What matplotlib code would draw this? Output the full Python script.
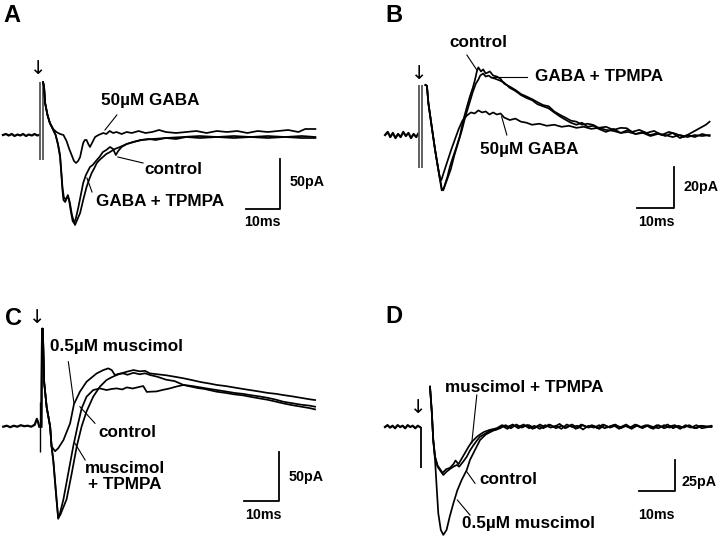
import matplotlib.pyplot as plt

plt.rcParams['font.family'] = ['Liberation Sans', 'DejaVu Sans']

# ---------------- data: time (ms) from stimulus, current (pA) ----------------
# panel A
a_base = [(-10.9, 0), (-10, 1), (-9.2, -0.5), (-8.3, 1), (-7.5, -1), (-6.6, 0.5), (-5.8, -0.5),
          (-5, 1), (-4.1, -1), (-3.3, 0.5), (-2.4, -0.5), (-1.6, 1), (-0.8, -0.5), (-0.3, 0)]
a_control = [(0.9, 53), (1.2, 48), (1.5, 32), (2.2, 20), (2.9, 12), (3.9, 5), (4.6, 0), (5.3, -10),
             (5.9, -22), (6.3, -40), (6.6, -55), (6.9, -65), (7.4, -67), (8.0, -62), (8.5, -64),
             (9.0, -75), (9.6, -86), (10.0, -88), (10.5, -84), (11.3, -72), (12.0, -60), (12.7, -48),
             (13.5, -40), (14.7, -32), (15.5, -30), (16.7, -25), (17.5, -22), (18.5, -17), (19.5, -15),
             (20.6, -12), (21.5, -14), (22.3, -20), (23.0, -16), (24.0, -12), (25.5, -9), (27.4, -7),
             (29.5, -5), (32, -4), (34, -5), (37, -3), (40, -4), (43, -2), (47, -3), (52, -2), (57, -3),
             (62, -2), (67, -3), (72, -2), (77, -3), (81, -3)]
a_tpmpa = [(0.9, 53), (1.2, 48), (1.5, 32), (2.2, 20), (2.9, 12), (3.9, 5), (4.6, 0), (5.3, -9),
           (5.9, -20), (6.3, -38), (6.6, -52), (7.0, -62), (7.6, -65), (8.2, -60), (8.8, -68),
           (9.4, -80), (10.0, -87), (10.3, -90), (10.8, -86), (11.8, -78), (12.7, -65), (13.7, -52),
           (14.5, -44), (15.2, -38), (16.0, -33), (16.7, -28), (17.5, -25), (18.5, -22), (19.5, -19),
           (20.6, -17), (22, -14), (23.5, -12), (25.5, -9), (27.5, -7), (30, -5), (33, -4), (37, -3),
           (42, -2), (47, -1), (52, -2), (57, -1), (62, -2), (67, -1), (72, -2), (77, -1), (81, -2)]
a_gaba = [(0.9, 53), (1.2, 48), (1.5, 32), (2.2, 20), (2.9, 12), (3.9, 6), (4.8, 3), (5.9, 1),
          (6.9, 0), (7.8, -6), (8.6, -14), (9.3, -20), (10.0, -26), (10.6, -28), (11.2, -26),
          (11.8, -22), (12.3, -14), (12.7, -8), (13.2, -5), (13.7, -5), (14.2, -9), (14.7, -12),
          (15.3, -8), (16.2, -2), (17.2, 0), (18.6, 2), (19.5, 1), (20.5, 4), (21.5, 2), (22.5, 3),
          (24, 1), (25.5, 3), (27, 2), (29, 4), (31, 2), (33, 3), (35, 5), (37, 3), (40, 2), (43, 3),
          (46, 4), (49, 2), (52, 4), (55, 3), (58, 4), (61, 2), (64, 4), (67, 3), (70, 4), (73, 5),
          (76, 3), (78, 6), (81, 6)]

# panel B
b_base = [(-9.7, 0), (-9, 1.5), (-8.3, -1), (-7.6, 1), (-6.9, -1.5), (-6.2, 0.5), (-5.5, -1),
          (-4.8, 1.5), (-4.1, -0.5), (-3.4, 1), (-2.7, -1.5), (-2, 0.5), (-1.3, -1), (-0.8, 0.5)]
b_control = [(1.2, 24.4), (1.6, 24), (2.0, 15.5), (2.9, 4), (3.8, -7.3), (4.7, -17), (5.6, -26),
             (6.0, -27), (6.5, -24), (7.2, -20), (7.8, -15.5), (8.6, -11), (9.6, -5.7), (10.5, -0.5),
             (11.4, 7), (12.3, 13), (13.2, 18.7), (14.0, 23), (14.6, 27), (15.1, 31), (15.5, 33),
             (16.2, 31), (16.8, 32), (17.5, 30), (18.6, 31), (19.5, 29), (20.5, 28.5), (21.4, 27.6),
             (22.5, 25), (24, 23.6), (25.5, 22), (27, 20), (28.6, 18.7), (30, 17.5), (31.5, 16),
             (33, 14.6), (34.5, 14), (36, 11.5), (37.6, 9.8), (39, 8.5), (40.5, 7), (42, 6.5),
             (43.5, 5), (45, 5.5), (46.6, 4.9), (48, 3.5), (50, 4), (52, 2.5), (54, 3.5), (55.6, 3.3),
             (57, 1.5), (59, 2.5), (61, 1), (63, 2), (65, 0), (67, 1.5), (69, 0.5), (71, -1), (73, 1),
             (75, 3), (77, 5), (78, 6.5)]
b_tpmpa = [(1.2, 24.4), (1.6, 24), (2.0, 15.5), (2.9, 4), (3.8, -7.3), (4.7, -17), (5.6, -27),
           (6.2, -26), (7.0, -22), (8.0, -17), (9.0, -10), (10.0, -4), (11.0, 2), (12.0, 9), (13.0, 15),
           (14.0, 21), (14.8, 25), (15.5, 27), (16.0, 29), (16.8, 30), (17.5, 28.5), (18.3, 29),
           (19, 28), (20, 27.5), (21.4, 26.5), (22.5, 25.5), (24, 23), (25.5, 21.5), (27, 19.5),
           (28.6, 18), (30, 17), (31.5, 15), (33, 14), (34.5, 13), (36, 11), (37.6, 9), (39, 7.5),
           (40.5, 6), (42, 5), (43.5, 6), (45, 4), (46.6, 4.5), (48, 3), (50, 1.5), (52, 3), (54, 1),
           (56, 2.5), (58, 0.5), (60, 1.5), (62, 0), (64, 1), (66, -0.5), (68, 1), (70, -1.5), (72, 0),
           (74, -1), (76, 0.5), (78, -0.5)]
b_gaba = [(1.2, 24.4), (1.6, 24), (2.0, 15.5), (2.9, 4), (3.8, -7), (4.5, -15), (5.1, -21),
          (5.5, -22), (6.2, -18), (7.2, -12.5), (8.2, -7), (9.2, -2), (10.2, 3), (11.2, 7), (12.4, 9.5),
          (13.5, 11), (14.5, 10.5), (15.5, 12), (16.5, 11), (17.5, 11.5), (18.5, 10), (19.5, 11),
          (20.5, 10), (21.5, 10.5), (22.5, 8.5), (24, 7.3), (25.5, 8), (27, 6.5), (28.5, 6), (30, 5),
          (32, 5.5), (34, 4.5), (36, 5), (38, 4), (40, 4.5), (42, 3.5), (44, 4), (46, 3), (48, 3.5),
          (50, 2.5), (52, 2), (54, 1), (56, 1.5), (58, 0.5), (60, 1), (62, -0.5), (64, 0.5), (66, 0),
          (68, -1), (70, 0), (72, -1), (74, 0), (76, -0.5), (78, 0)]

# panel C
c_base = [(-10.5, 0), (-9.5, 1), (-8.5, -0.5), (-7.5, 1), (-6.5, 0), (-5.5, 1.5), (-4.5, 0.5),
          (-3.5, 1), (-2.5, 0), (-1.5, 2), (-0.9, 8), (-0.5, 4), (-0.2, 0)]
c_spike = [(0.4, 0), (0.55, 100), (0.8, 100), (1.2, 45), (1.9, 20), (2.4, 10), (2.9, 0), (3.3, -20)]
c_muscimol = [(4.3, -25), (5.2, -22), (6.7, -13.6), (8.6, 3.4), (9.7, 23), (11.4, 35.7),
              (13.3, 45.9), (16.2, 54.4), (18.1, 57.8), (19.5, 59.5), (20.5, 57.8), (21.4, 52.7),
              (22.5, 54), (23.8, 54.4), (25, 53), (26.7, 55), (28.5, 53.5), (30, 54.5), (31.4, 52.8),
              (33.5, 51), (36, 48), (38.5, 46.5), (41, 42.6), (43.5, 41.5), (46, 40), (48.5, 38.5),
              (50.5, 37.4), (53, 36), (55.5, 34.5), (58, 33.5), (60, 32.3), (62.5, 31), (65, 29.5),
              (67.5, 27.5), (69.5, 25.5), (72, 24), (74.5, 22.5), (77, 21.5), (78.6, 20.4)]
c_control = [(3.8, -34), (4.6, -68), (5.2, -94), (5.6, -90), (6.7, -74), (8.1, -47), (9.5, -20),
             (10.9, 3.4), (11.9, 18.7), (13.3, 30.6), (15.2, 37.4), (17.1, 39.1), (19, 37.4),
             (20.5, 38.5), (21.9, 39.1), (23.5, 38), (24.8, 40.1), (26.5, 39), (28.6, 40.8),
             (29.5, 41.5), (30.5, 35.5), (31.4, 35.7), (33.3, 36), (35, 37.5), (37, 39), (39, 41),
             (41, 42.6), (43, 41), (45, 39.5), (47, 38.5), (50.5, 35.7), (53, 34.5), (55.5, 33),
             (58, 32), (60, 30.6), (62.5, 29), (65, 27.5), (67.5, 25.5), (69.5, 23.8), (72, 22),
             (74.5, 20.5), (77, 19), (78.6, 17.7)]
c_tpmpa = [(3.8, -35), (4.6, -70), (5.2, -93), (5.8, -90), (6.7, -82), (7.6, -74), (9.1, -47),
           (10.5, -20), (11.9, 0.3), (13.3, 15.6), (15.2, 30.6), (17.1, 40.8), (19, 47.6), (20.5, 50.5),
           (21.9, 52.7), (23.3, 54.5), (24.8, 56.1), (26.7, 57.8), (28.5, 56.5), (30, 57), (31.4, 54.4),
           (33.5, 53.5), (36, 52.5), (38.5, 51), (41, 49.4), (43.5, 47.5), (46, 45.5), (48.5, 44),
           (50.5, 42.6), (53, 41.5), (55.5, 40), (58, 38.5), (60, 37.4), (62.5, 36), (65, 34.5),
           (67.5, 33.5), (69.5, 32.3), (72, 31), (74.5, 29.5), (77, 28), (78.6, 27.2)]

# panel D
d_base = [(-10, 0), (-9.3, 1.5), (-8.6, -0.5), (-7.9, 1), (-7.2, -1), (-6.5, 1.5), (-5.8, 0),
          (-5.1, 1), (-4.4, -1), (-3.7, 1.5), (-3, 0), (-2.3, 1), (-1.6, -1), (-0.9, 1), (-0.3, 0)]
d_muscimol = [(2.5, 32.5), (3.0, 12), (3.4, -10.5), (3.9, -26.6), (4.4, -50.8), (4.8, -69.6),
              (5.5, -83), (6.2, -87), (7.1, -83), (8.0, -72), (9.0, -61.5), (10.1, -51), (11.3, -42.7),
              (12.7, -34.7), (13.6, -26.6), (15.0, -18.5), (16.4, -10.5), (18.0, -6), (20, -3),
              (22, -1), (23.5, 1.5), (25, -1), (26.5, 2), (28, -0.5), (29.5, 1.5), (31, -1.5),
              (32.5, 1), (34, -1), (35.5, 2), (37, 0), (38.5, 2.5), (40, -1), (41.5, 1.5), (43, -1.5),
              (44.5, 2), (46, 0), (47.5, 1.5), (49, -1), (50.5, 2), (52, 0), (53.5, 1.5), (55, -1.5),
              (56.5, 1), (58, -0.5), (59.5, 2), (61, 0), (62.5, 1.5), (64, -1), (65.5, 1.5), (67, 0),
              (68.5, 2), (70, -1), (71.5, 1), (73, -0.5), (74.5, 1.5), (76, -1), (77.5, 1), (79, 0),
              (80.7, 1)]
d_control = [(2.5, 32.5), (3.0, 12), (3.4, -10.5), (3.9, -24), (4.6, -32), (5.3, -35),
             (6.2, -38.7), (7.1, -36), (8.0, -34), (9.0, -32), (10.0, -30.6), (10.6, -32), (11.7, -28),
             (12.7, -24), (13.6, -19), (14.5, -15), (15.5, -11), (16.4, -7.8), (17.5, -6), (19.2, -3),
             (21, -2), (22.5, 1), (24, -1.5), (25.5, 1.5), (27, 0), (28.5, 2), (30, -1), (31.5, 1),
             (33, -1.5), (34.5, 1.5), (36, -0.5), (37.5, 1), (39, -1.5), (40.5, 2), (42, 0), (43.5, 1),
             (45, -2), (46.5, 1), (48, -0.5), (49.5, 1.5), (51, -1), (52.5, 0.5), (54, 2), (55.5, -1),
             (57, 1), (58.5, -1.5), (60, 1.5), (61.5, -0.5), (63, 1), (64.5, -1.5), (66, 1.5), (67.5, -1),
             (69, 0.5), (70.5, 1.5), (72, -1), (73.5, 1), (75, -0.5), (76.5, 1.5), (78, -1), (80.7, 0.5)]
d_tpmpa = [(2.5, 32.5), (3.0, 12), (3.4, -10.5), (3.9, -24), (4.6, -31), (5.3, -34), (6.0, -37),
           (7.0, -34), (8.0, -33), (9.0, -30), (9.6, -27), (10.4, -30), (11.2, -26), (12.0, -22),
           (13.2, -16), (14.1, -12), (15.5, -8), (16.4, -6), (17.5, -4), (19, -2.4), (21, -1),
           (22.5, 1.5), (24, 0), (25.5, 2), (27, -1), (28.5, 1), (30, 1.5), (31.5, -1), (33, 2),
           (34.5, 0), (36, 1.5), (37.5, -1), (39, 1), (40.5, -0.5), (42, 2), (43.5, -1), (45, 1.5),
           (46.5, -0.5), (48, 1), (49.5, -1.5), (51, 1.5), (52.5, -0.5), (54, 1), (55.5, 0), (57, 2),
           (58.5, -1), (60, 1), (61.5, -1), (63, 1.5), (64.5, 0), (66, -1), (67.5, 1.5), (69, -0.5),
           (70.5, 1), (72, -1.5), (73.5, 1.5), (75, 0), (76.5, -1), (78, 1), (80.7, 0)]

# ---------------- drawing ----------------
W, H = 720, 540
fig = plt.figure(figsize=(7.2, 5.4), dpi=100)


def panel(box, x0, y0, sx, sy):
    # box in pixels (left, top, width, height); x0/y0 = pixel of t=0, I=0
    left, top, w, h = box
    ax = fig.add_axes([left / W, 1 - (top + h) / H, w / W, h / H])
    ax.set_xlim((left - x0) / sx, (left + w - x0) / sx)
    ax.set_ylim((y0 - top - h) / sy, (y0 - top) / sy)
    ax.axis('off')
    return ax


def trace(ax, pts, lw=1.25):
    t, i = zip(*pts)
    ax.plot(t, i, color='black', lw=lw, solid_joinstyle='round')


def label(ax, txt, pos, leader=None, **kw):
    ax.text(pos[0], pos[1], txt, ha='center', va='center', fontsize=12.3,
            fontweight='bold', **kw)
    if leader:
        (x1, y1), (x2, y2) = leader
        ax.plot([x1, x2], [y1, y2], color='black', lw=0.8)


def scalebar(ax, corner, dt, di, ilab, ipos, tpos):
    tx, iy = corner
    ax.plot([tx - dt, tx, tx], [iy, iy, iy + di], color='black', lw=1.3)
    ax.text(ipos[0], ipos[1], ilab, ha='left', va='center', fontsize=10.3, fontweight='bold')
    ax.text(tpos[0], tpos[1], '10ms', ha='center', va='center', fontsize=10.3, fontweight='bold')


def arrow(ax, pos):
    ax.text(pos[0], pos[1], '\u2193', ha='center', va='center', fontsize=14,
            family=['DejaVu Sans'])


# A
ax = panel((0, 0, 360, 250), 40, 135, 3.4, 1.0)
trace(ax, a_base, lw=1.6)
ax.vlines([0.0, 0.8], -25, 53, color='#555555', lw=1.3)
trace(ax, a_control)
trace(ax, a_tpmpa)
trace(ax, a_gaba)
arrow(ax, (-0.5, 66))
label(ax, '50\u00b5M GABA', (32.4, 35), ((22.6, 20), (19.1, 5)))
label(ax, 'control', (39.3, -35), ((30.3, -28), (22.9, -22)))
label(ax, 'GABA + TPMPA', (35.3, -67), ((15.3, -57), (13.8, -43)))
scalebar(ax, (70.6, -74.3), 10, 50, '50pA', (73.3, -47.3), (65.5, -86.7))

# B
ax = panel((360, 0, 360, 250), 421, 135, 3.7, 2.05)
trace(ax, b_base, lw=1.6)
ax.vlines([-0.5, 0.2], -16.2, 24.4, color='#555555', lw=1.3)
trace(ax, b_control)
trace(ax, b_tpmpa)
trace(ax, b_gaba)
arrow(ax, (-0.6, 30))
label(ax, 'control', (15.5, 44.9), ((12.4, 39), (15.1, 31.7)))
label(ax, 'GABA + TPMPA', (48.0, 28.3), ((19.5, 28.4), (28.6, 28.4)))
label(ax, '50\u00b5M GABA', (29.2, -7.3), ((23.2, 0), (21.8, 8.9)))
scalebar(ax, (68.5, -35.8), 10, 20, '20pA', (70.9, -25.5), (63.7, -42.3))

# C
ax = panel((0, 260, 360, 280), 40, 426.7, 3.5, 0.98)
trace(ax, c_base, lw=1.6)
ax.vlines([0.0], -26, 25, color='black', lw=1.0)
trace(ax, c_spike + c_muscimol)
trace(ax, c_spike + c_control)
trace(ax, c_spike + c_tpmpa)
arrow(ax, (-0.9, 111))
label(ax, '0.5\u00b5M muscimol', (21.9, 82.3), ((8.1, 66.3), (9.7, 23.9)))
label(ax, 'control', (25.1, -6.1), ((15.7, 3.5), (11.4, 20.4)))
label(ax, 'muscimol\n+ TPMPA', (24.3, -51), ((12.9, -34), (10.0, -17)), linespacing=1.1)
scalebar(ax, (68.3, -75.5), 10, 50, '50pA', (70.9, -51), (63.7, -90.1))

# D
ax = panel((360, 260, 360, 280), 421, 427, 3.6, 1.24)
trace(ax, d_base, lw=1.6)
ax.vlines([0.0], -33.3, 0, color='black', lw=1.3)
trace(ax, d_muscimol)
trace(ax, d_control)
trace(ax, d_tpmpa)
arrow(ax, (-0.8, 16))
label(ax, 'muscimol + TPMPA', (28.6, 32), ((15.5, 25.8), (14.1, -13.1)))
label(ax, 'control', (24.4, -42.7), ((15.0, -45.4), (12.7, -36)))
label(ax, '0.5\u00b5M muscimol', (29.9, -77.7), ((13.6, -71), (10.1, -58.9)))
scalebar(ax, (70.6, -51.6), 10, 25, '25pA', (72.5, -44.1), (65.4, -71))

# panel letters
for txt, (px, py) in zip('ABCD', [(3, 21.7), (385, 21.7), (5, 325), (385, 323)]):
    fig.text(px / W, 1 - py / H, txt, fontsize=17, fontweight='bold', ha='left', va='baseline')

fig.savefig('out.png', dpi=100, facecolor='white')
